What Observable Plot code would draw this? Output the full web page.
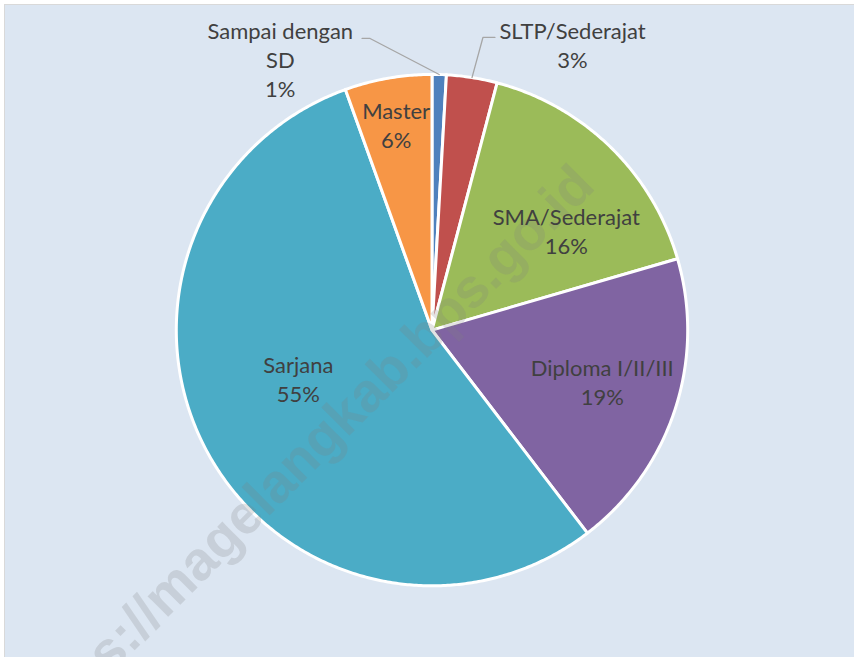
<!DOCTYPE html>
<html>
<head>
<meta charset="utf-8">
<script src="https://cdn.jsdelivr.net/npm/d3@7"></script>
<script src="https://cdn.jsdelivr.net/npm/@observablehq/plot@0.6"></script>
<style>
  html, body { margin: 0; padding: 0; background: #ffffff; overflow: hidden; width: 854px; height: 657px; }
  #wrap { position: absolute; left: 4px; top: 4px; border-top: 1px solid #d9d9d9; border-left: 1px solid #d9d9d9; }
  #wrap svg { display: block; background: #dce6f2; }
</style>
</head>
<body>
<div id="wrap"></div>
<script>
// ---- data ----
const categories = ["Sampai dengan SD", "SLTP/Sederajat", "SMA/Sederajat", "Diploma I/II/III", "Sarjana", "Master"];
const shares = [0.9, 3.2, 16.4, 19.1, 54.9, 5.5];
const colors = ["#4f81bd", "#c0504d", "#9bbb59", "#8064a2", "#4bacc6", "#f79646"];
const watermark = "https://magelangkab.bps.go.id";

// ---- layout (not data) ----
const W = 850, H = 653;          // svg size (placed at page offset 5,5)
const CX = 427, CY = 325;        // pie centre in svg px
const R = 256;                   // pie radius
// label placement: radius fraction and angle nudge (degrees) from slice mid-angle
const labelRadius = [1.217, 1.245, 0.655, 0.695, 0.555, 0.817];
const labelNudge = [-30.8, 17.2, 9, -1.5, 9, 0];
const outside = [true, true, false, false, false, false];
// leader elbows (relative px, y down) for outside labels
const leaderElbows = {0: [[-62, -292], [-70, -292]], 1: [[51, -293], [63, -293]]};

const total = d3.sum(shares);
let cum = 0;
const slices = categories.map((c, i) => {
  const a0 = cum / total * 360;
  cum += shares[i];
  const a1 = cum / total * 360;
  return {cat: c, i, a0, a1, mid: (a0 + a1) / 2, pct: Math.round(shares[i] / total * 100)};
});

const rad = d => d * Math.PI / 180;
// wedge outline points (x right, y up)
const wedgePts = [];
for (const s of slices) {
  wedgePts.push({cat: s.cat, x: 0, y: 0});
  const n = Math.max(2, Math.ceil((s.a1 - s.a0) / 0.5));
  for (let k = 0; k <= n; k++) {
    const a = rad(s.a0 + (s.a1 - s.a0) * k / n);
    wedgePts.push({cat: s.cat, x: R * Math.sin(a), y: R * Math.cos(a)});
  }
}

const labelData = slices.map(s => {
  const a = rad(s.mid + labelNudge[s.i]);
  const r = R * labelRadius[s.i];
  let name = s.cat;
  if (outside[s.i] && name.length > 15) {
    const p = name.lastIndexOf(" ");
    name = name.slice(0, p) + "\n" + name.slice(p + 1);
  }
  return {x: r * Math.sin(a), y: r * Math.cos(a), text: name + "\n" + s.pct + "%"};
});

const leaderPts = [];
for (const s of slices) {
  if (!leaderElbows[s.i]) continue;
  const a = rad(s.mid);
  leaderPts.push({id: s.i, x: R * Math.sin(a), y: R * Math.cos(a)});
  for (const [dx, dy] of leaderElbows[s.i]) leaderPts.push({id: s.i, x: dx, y: -dy});
}

const chart = Plot.plot({
  width: W,
  height: H,
  margin: 0,
  x: {domain: [-CX, W - CX], axis: null},
  y: {domain: [-(H - CY), CY], axis: null},
  color: {domain: categories, range: colors},
  style: {background: "#dce6f2", overflow: "visible"},
  marks: [
    Plot.line(wedgePts, {x: "x", y: "y", z: "cat", fill: "cat", stroke: "#ffffff", strokeWidth: 3, strokeLinejoin: "round", curve: "linear-closed"}),
    Plot.line(leaderPts, {x: "x", y: "y", z: "id", stroke: "#a6a6a6", strokeWidth: 1.3}),
    Plot.text([watermark], {x: () => -128, y: () => -126, text: d => d, rotate: -45, fontSize: 55, fontWeight: "bold", fontFamily: "Liberation Sans, Arial, sans-serif", fill: "#808080", fillOpacity: 0.22}),
    Plot.text(labelData, {x: "x", y: "y", text: "text", fontFamily: "Lato, 'Open Sans', sans-serif", fontSize: 22, lineHeight: 1.32, fill: "#404040"})
  ]
});
document.getElementById("wrap").appendChild(chart);
</script>
</body>
</html>
